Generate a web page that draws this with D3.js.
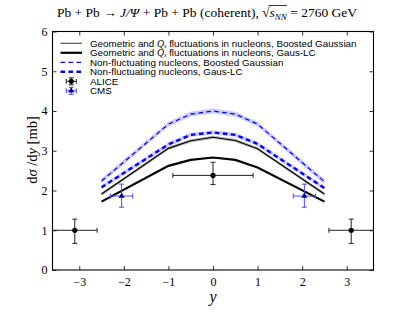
<!DOCTYPE html>
<html>
<head>
<meta charset="utf-8">
<script src="https://cdn.jsdelivr.net/npm/d3@7"></script>
<style>
  body { margin: 0; background: #fff; }
  svg { display: block; }
</style>
</head>
<body>
<div id="chart"></div>
<script>
// data
var rapidity = [-2.5, -1, -0.5, 0, 0.5, 1, 2.5];
var geoBoosted = [1.91, 3.06, 3.25, 3.34, 3.26, 3.05, 1.91];
var geoGausLC = [1.72, 2.62, 2.77, 2.83, 2.77, 2.58, 1.72];
var nonBoosted = [2.24, 3.67, 3.92, 4.00, 3.92, 3.67, 2.22];
var nonGausLC = [2.08, 3.16, 3.40, 3.46, 3.40, 3.17, 2.06];
// half widths of the shaded bands
var geoBoostedBand = [0.04, 0.04, 0.04, 0.04, 0.04, 0.04, 0.04];
var nonBoostedBand = [0.06, 0.06, 0.06, 0.06, 0.06, 0.06, 0.06];
var nonGausLCBand = [0.05, 0.05, 0.05, 0.05, 0.05, 0.05, 0.05];

var aliceY = [-3.1, 0, 3.1];
var aliceVal = [1.0, 2.38, 1.0];
var aliceXerr = [0.5, 0.9, 0.5];
var aliceErrLo = [0.33, 0.23, 0.33];
var aliceErrHi = [0.28, 0.33, 0.28];

var cmsY = [-2.05, 2.05];
var cmsVal = [1.86, 1.86];
var cmsXerr = [0.25, 0.25];
var cmsErrLo = [0.28, 0.28];
var cmsErrHi = [0.30, 0.30];

var xTicks = [-3, -2, -1, 0, 1, 2, 3];
var yTicks = [0, 1, 2, 3, 4, 5, 6];

var legendLabels = [
    ["Geometric and ", "Q", "s", " fluctuations in nucleons, Boosted Gaussian"],
    ["Geometric and ", "Q", "s", " fluctuations in nucleons, Gaus-LC"],
    ["Non-fluctuating nucleons, Boosted Gaussian"],
    ["Non-fluctuating nucleons, Gaus-LC"],
    ["ALICE"],
    ["CMS"]
];

var W = 415, H = 312;
var margin = { top: 31.5, right: 41.5, bottom: 42, left: 52.5 },
    width = W - margin.left - margin.right,
    height = H - margin.top - margin.bottom;

var svg = d3.select("#chart")
    .append("svg")
    .attr("width", W)
    .attr("height", H);

var g = svg.append("g")
    .attr("transform", "translate(" + margin.left + "," + margin.top + ")");

var x = d3.scaleLinear().domain([-3.6, 3.6]).range([0, width]);
var y = d3.scaleLinear().domain([0, 6]).range([height, 0]);

var serif = "'Liberation Serif', 'DejaVu Serif', serif";
var sans = "'Liberation Sans', Arial, sans-serif";

g.append("clipPath").attr("id", "clip")
    .append("rect").attr("width", width).attr("height", height);

var plot = g.append("g").attr("clip-path", "url(#clip)");

// bands
function band(vals, half, color) {
    var pts = rapidity.map(function (r, i) { return { r: r, v: vals[i], h: half[i] }; });
    plot.append("path")
        .datum(pts)
        .attr("fill", color)
        .attr("stroke", "none")
        .attr("d", d3.area()
            .x(function (d) { return x(d.r); })
            .y0(function (d) { return y(d.v - d.h); })
            .y1(function (d) { return y(d.v + d.h); }));
}
band(nonBoosted, nonBoostedBand, "#c9c9fb");
band(nonGausLC, nonGausLCBand, "#c9c9fb");
band(geoBoosted, geoBoostedBand, "#b4b4b4");

// curves
var line = d3.line()
    .x(function (d) { return x(d.r); })
    .y(function (d) { return y(d.v); });

var curves = [
    { vals: geoBoosted, color: "#000", w: 1.1, dash: null },
    { vals: geoGausLC, color: "#000", w: 2.2, dash: null },
    { vals: nonBoosted, color: "#0000ff", w: 1.2, dash: "4.5,3.5" },
    { vals: nonGausLC, color: "#0000ff", w: 2.4, dash: "4.5,3.5" }
];
curves.forEach(function (c) {
    plot.append("path")
        .datum(rapidity.map(function (r, i) { return { r: r, v: c.vals[i] }; }))
        .attr("fill", "none")
        .attr("stroke", c.color)
        .attr("stroke-width", c.w)
        .attr("stroke-dasharray", c.dash)
        .attr("d", line);
});

// error bars
function errbar(sel, cx, cy, x0, x1, y0, y1, color) {
    var cap = 2.5;
    sel.append("line").attr("x1", x0).attr("x2", x1).attr("y1", cy).attr("y2", cy)
        .attr("stroke", color).attr("stroke-width", 1);
    sel.append("line").attr("x1", cx).attr("x2", cx).attr("y1", y0).attr("y2", y1)
        .attr("stroke", color).attr("stroke-width", 1);
    [x0, x1].forEach(function (xx) {
        sel.append("line").attr("x1", xx).attr("x2", xx).attr("y1", cy - cap).attr("y2", cy + cap)
            .attr("stroke", color).attr("stroke-width", 1);
    });
    [y0, y1].forEach(function (yy) {
        sel.append("line").attr("x1", cx - cap).attr("x2", cx + cap).attr("y1", yy).attr("y2", yy)
            .attr("stroke", color).attr("stroke-width", 1);
    });
}

var pts = g.append("g");
aliceY.forEach(function (r, i) {
    errbar(pts, x(r), y(aliceVal[i]), x(r - aliceXerr[i]), x(r + aliceXerr[i]),
        y(aliceVal[i] - aliceErrLo[i]), y(aliceVal[i] + aliceErrHi[i]), "#222");
    pts.append("circle").attr("cx", x(r)).attr("cy", y(aliceVal[i])).attr("r", 2.6).attr("fill", "#000");
});
var tri = d3.symbol().type(d3.symbolTriangle).size(16);
cmsY.forEach(function (r, i) {
    errbar(pts, x(r), y(cmsVal[i]), x(r - cmsXerr[i]), x(r + cmsXerr[i]),
        y(cmsVal[i] - cmsErrLo[i]), y(cmsVal[i] + cmsErrHi[i]), "#4b4bff");
    pts.append("path").attr("d", tri)
        .attr("transform", "translate(" + x(r) + "," + y(cmsVal[i]) + ")")
        .attr("fill", "#000080");
});

// axes with inward ticks on all four sides
var tickLen = 4;
g.append("g")
    .attr("transform", "translate(0," + height + ")")
    .call(d3.axisBottom(x).tickValues(xTicks).tickSizeInner(-tickLen).tickSizeOuter(0).tickPadding(7));
g.append("g")
    .call(d3.axisLeft(y).tickValues(yTicks).tickFormat(d3.format("d"))
        .tickSizeInner(-tickLen).tickSizeOuter(0).tickPadding(5));
g.append("g")
    .call(d3.axisTop(x).tickValues(xTicks).tickSizeInner(-tickLen).tickSizeOuter(0).tickFormat(""));
g.append("g")
    .attr("transform", "translate(" + width + ",0)")
    .call(d3.axisRight(y).tickValues(yTicks).tickSizeInner(-tickLen).tickSizeOuter(0).tickFormat(""));

g.selectAll(".domain").remove();
g.selectAll(".tick line").attr("stroke", "#000").attr("stroke-width", 0.8);
g.selectAll(".tick text")
    .attr("font-family", serif)
    .attr("font-size", 12)
    .attr("fill", "#000");

g.append("rect")
    .attr("width", width).attr("height", height)
    .attr("fill", "none").attr("stroke", "#000").attr("stroke-width", 1.1);

// legend
var leg = g.append("g").attr("transform", "translate(" + (60.5 - margin.left) + "," + (43.3 - margin.top) + ")");
var rowH = 9.5, lineLen = 21.5, textX = 90 - 60.5;
var legStyles = [
    { color: "#555", w: 1.2, dash: null },
    { color: "#000", w: 2.2, dash: null },
    { color: "#0000ff", w: 1.2, dash: "4.5,3.5" },
    { color: "#0000ff", w: 2.4, dash: "4.5,3.5" }
];
legStyles.forEach(function (s, i) {
    leg.append("line").attr("x1", 0).attr("x2", lineLen).attr("y1", i * rowH).attr("y2", i * rowH)
        .attr("stroke", s.color).attr("stroke-width", s.w).attr("stroke-dasharray", s.dash);
});
var lc = lineLen / 2;
errbar(leg, lc, 4 * rowH, lc - 5, lc + 5, 4 * rowH + 3.5, 4 * rowH - 3.5, "#222");
leg.append("circle").attr("cx", lc).attr("cy", 4 * rowH).attr("r", 2.6).attr("fill", "#000");
errbar(leg, lc, 5 * rowH, lc - 5, lc + 5, 5 * rowH + 3.5, 5 * rowH - 3.5, "#4b4bff");
leg.append("path").attr("d", tri).attr("transform", "translate(" + lc + "," + 5 * rowH + ")").attr("fill", "#000080");

legendLabels.forEach(function (parts, i) {
    var t = leg.append("text")
        .attr("x", textX).attr("y", i * rowH)
        .attr("dy", "0.35em")
        .attr("font-family", sans)
        .attr("font-size", 9.8)
        .attr("fill", "#000");
    if (parts.length === 1) {
        t.text(parts[0]);
    } else {
        t.append("tspan").text(parts[0]);
        t.append("tspan").attr("font-family", serif).attr("font-style", "italic").text(parts[1]);
        t.append("tspan").attr("font-family", serif).attr("font-style", "italic")
            .attr("font-size", 6).attr("dy", 1).text(parts[2]);
        t.append("tspan").attr("dy", -1).text(parts[3]);
    }
});

// axis labels
svg.append("text")
    .attr("x", margin.left + width / 2).attr("y", 302)
    .attr("text-anchor", "middle")
    .attr("font-family", serif).attr("font-style", "italic").attr("font-size", 16)
    .text("y");

var yl = svg.append("text")
    .attr("transform", "translate(37,150) rotate(-90)")
    .attr("text-anchor", "middle")
    .attr("font-family", serif).attr("font-size", 14.5);
yl.append("tspan").text("d");
yl.append("tspan").attr("font-style", "italic").text("σ");
yl.append("tspan").text(" /d");
yl.append("tspan").attr("font-style", "italic").text("y");
yl.append("tspan").text(" [mb]");

// title
var title = svg.append("text")
    .attr("x", 207).attr("y", 17)
    .attr("text-anchor", "middle")
    .attr("font-family", serif).attr("font-size", 13.5);
title.append("tspan").text("Pb + Pb → ");
title.append("tspan").attr("font-style", "italic").text("J/Ψ");
title.append("tspan").text(" + Pb + Pb (coherent), √");
title.append("tspan").attr("font-style", "italic").text("s");
title.append("tspan").attr("font-style", "italic").attr("font-size", 9).attr("dy", 3).text("NN");
title.append("tspan").attr("dy", -3).text(" = 2760 GeV");

// overline over s_NN
var tn = title.node();
var full = tn.textContent;
var iS = full.indexOf("√") + 1;
var iE = full.indexOf("NN") + 1;
var x0 = tn.getStartPositionOfChar(iS).x;
var x1 = tn.getEndPositionOfChar(iE).x;
svg.append("line")
    .attr("x1", x0 - 1).attr("x2", x1)
    .attr("y1", 5.5).attr("y2", 5.5)
    .attr("stroke", "#000").attr("stroke-width", 0.8);
</script>
</body>
</html>
